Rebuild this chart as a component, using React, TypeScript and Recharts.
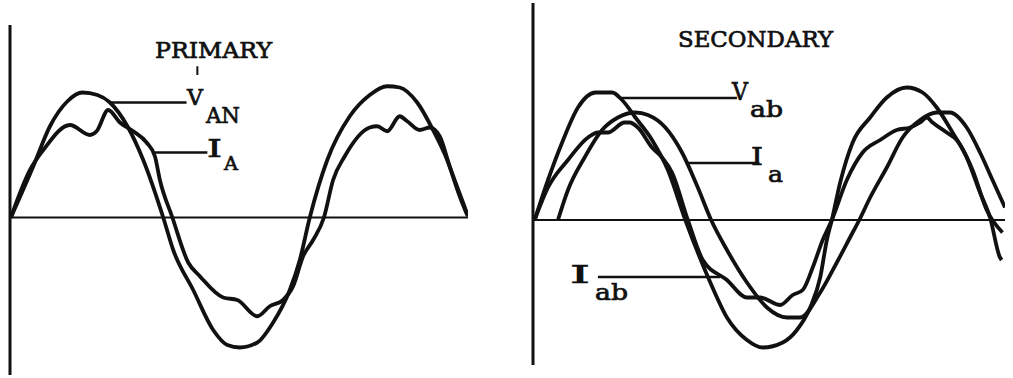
import React from 'react';
import { LineChart, Line, XAxis, YAxis, ReferenceLine } from 'recharts';

// x in electrical degrees from the left axis, y in per-unit of the voltage peak
const primaryVoltage: [number, number][] = [
  [1, 0], [28, 0.41], [48, 0.73], [69, 0.93], [87, 1.0], [105, 0.98], [120, 0.92],
  [141, 0.73], [160, 0.46], [184, 0], [196, -0.26], [220, -0.58], [244, -0.9],
  [261, -1.02], [276, -1.04], [297, -1.0], [316, -0.84], [336, -0.58], [348, -0.34],
  [360, 0], [381, 0.46], [408, 0.81], [432, 0.98], [453, 1.05], [468, 1.04],
  [489, 0.92], [508, 0.7], [525, 0.46], [540, 0.17], [549, 0.02],
];

const primaryCurrent: [number, number][] = [
  [1, 0], [24, 0.38], [40, 0.54], [72, 0.74], [96, 0.66], [104, 0.69], [118, 0.86],
  [132, 0.76], [148, 0.69], [164, 0.6], [174, 0.49], [180, 0.3], [195, 0],
  [214, -0.36], [228, -0.47], [256, -0.64], [273, -0.66], [297, -0.79], [312, -0.71],
  [328, -0.66], [340, -0.55], [352, -0.31], [364, -0.18], [377, 0], [388, 0.3],
  [402, 0.49], [432, 0.72], [441, 0.73], [453, 0.69], [468, 0.81], [477, 0.77],
  [492, 0.7], [504, 0.72], [516, 0.65], [528, 0.41], [544, 0.12], [550, 0.01],
];

const secondaryVoltage: [number, number][] = [
  [2, 0], [18, 0.32], [35, 0.62], [54, 0.9], [75, 1.02], [95, 1.02], [107, 0.96],
  [123, 0.82], [143, 0.64], [162, 0.4], [183, 0], [213, -0.5], [233, -0.78],
  [257, -0.96], [276, -1.02], [300, -0.98], [317, -0.88], [333, -0.7], [345, -0.46],
  [353, -0.16], [359, 0], [369, 0.3], [384, 0.62], [405, 0.82], [425, 0.98],
  [449, 1.06], [468, 1.02], [485, 0.9], [504, 0.7], [521, 0.5], [537, 0.22],
  [549, 0.02], [561, -0.3], [563, -0.32],
];

const secondaryLineCurrent: [number, number][] = [
  [30, 0], [42, 0.24], [62, 0.5], [83, 0.72], [102, 0.82], [123, 0.86], [138, 0.84],
  [159, 0.74], [179, 0.54], [198, 0.26], [214, 0], [233, -0.24], [257, -0.5],
  [281, -0.7], [305, -0.78], [321, -0.78], [345, -0.58], [365, -0.34], [384, -0.1],
  [392, 0], [405, 0.18], [425, 0.42], [444, 0.66], [465, 0.8], [485, 0.86],
  [501, 0.86], [521, 0.74], [537, 0.54], [552, 0.32], [567, 0.1],
];

const secondaryPhaseCurrent: [number, number][] = [
  [2, 0], [18, 0.26], [42, 0.48], [66, 0.66], [78, 0.7], [90, 0.7], [110, 0.78],
  [116, 0.78], [126, 0.74], [143, 0.58], [155, 0.5], [167, 0.38], [186, 0],
  [204, -0.32], [233, -0.48], [257, -0.62], [273, -0.62], [297, -0.68], [312, -0.6],
  [324, -0.56], [336, -0.38], [348, -0.16], [359, 0], [377, 0.32], [396, 0.54],
  [417, 0.64], [437, 0.72], [453, 0.74], [465, 0.78], [473, 0.82], [480, 0.78],
  [497, 0.7], [509, 0.64], [528, 0.4], [545, 0.08], [564, -0.1],
];

const toRows = (pts: [number, number][]) => pts.map(([x, y]) => ({ x, y }));

const ink = '#111';
const typewriter = '"DejaVu Serif", "Liberation Serif", serif';

const Wave = ({ pts }: { pts: [number, number][] }) => (
  <Line
    data={toRows(pts)}
    dataKey="y"
    type="monotone"
    stroke={ink}
    strokeWidth={3.8}
    strokeLinejoin="round"
    dot={false}
    activeDot={false}
    isAnimationActive={false}
  />
);

const Txt = ({ x, y, size = 22, len, children }: any) => (
  <text
    x={x}
    y={y}
    fontFamily={typewriter}
    fontSize={size}
    fill={ink}
    stroke={ink}
    strokeWidth={0.7}
    textLength={len}
    lengthAdjust="spacingAndGlyphs"
  >
    {children}
  </text>
);

const leader = { stroke: ink, strokeWidth: 2.5, ifOverflow: 'visible' as const };

export default function App() {
  return (
    <div style={{ position: 'absolute', left: 0, top: 0, width: 1013, height: 378, background: '#fff' }}>
      <div style={{ position: 'absolute', left: 0, top: 0 }}>
        <LineChart width={480} height={378} margin={{ top: 25, right: 12, bottom: 3, left: 10 }}>
          <XAxis type="number" dataKey="x" domain={[0, 550]} hide allowDataOverflow />
          <YAxis type="number" domain={[-1.26, 1.54]} hide allowDataOverflow />
          <ReferenceLine x={0} stroke={ink} strokeWidth={3} />
          <ReferenceLine y={0} stroke={ink} strokeWidth={2} />
          <Wave pts={primaryVoltage} />
          <Wave pts={primaryCurrent} />
          <ReferenceLine segment={[{ x: 120, y: 0.92 }, { x: 212, y: 0.92 }]} {...leader} />
          <ReferenceLine segment={[{ x: 174, y: 0.52 }, { x: 237, y: 0.52 }]} {...leader} />
          <ReferenceLine segment={[{ x: 225, y: 1.21 }, { x: 225, y: 1.14 }]} stroke={ink} strokeWidth={2} />
          <Txt x={155} y={58} size={22} len={117}>PRIMARY</Txt>
          <Txt x={187} y={105} len={16}>V</Txt>
          <Txt x={206} y={123} len={34}>AN</Txt>
          <Txt x={207} y={157} size={24} len={15}>I</Txt>
          <Txt x={224} y={170} size={19} len={14}>A</Txt>
        </LineChart>
      </div>
      <div style={{ position: 'absolute', left: 520, top: 0 }}>
        <LineChart width={493} height={378} margin={{ top: 3, right: 8, bottom: 13, left: 13 }}>
          <XAxis type="number" dataKey="x" domain={[0, 567]} hide allowDataOverflow />
          <YAxis type="number" domain={[-1.16, 1.736]} hide allowDataOverflow />
          <ReferenceLine x={0} stroke={ink} strokeWidth={3} />
          <ReferenceLine y={0} stroke={ink} strokeWidth={2} />
          <Wave pts={secondaryVoltage} />
          <Wave pts={secondaryLineCurrent} />
          <Wave pts={secondaryPhaseCurrent} />
          <ReferenceLine segment={[{ x: 105, y: 0.976 }, { x: 245, y: 0.976 }]} {...leader} />
          <ReferenceLine segment={[{ x: 186, y: 0.456 }, { x: 272, y: 0.456 }]} {...leader} />
          <ReferenceLine segment={[{ x: 78, y: -0.456 }, { x: 225, y: -0.456 }]} {...leader} />
          <Txt x={158} y={47} size={23} len={155}>SECONDARY</Txt>
          <Txt x={212} y={100} size={24} len={16}>V</Txt>
          <Txt x={230} y={117} len={33}>ab</Txt>
          <Txt x={231} y={165} size={24} len={12}>I</Txt>
          <Txt x={248} y={182} len={15}>a</Txt>
          <Txt x={50} y={283} size={24} len={20}>I</Txt>
          <Txt x={75} y={300} len={33}>ab</Txt>
        </LineChart>
      </div>
    </div>
  );
}
